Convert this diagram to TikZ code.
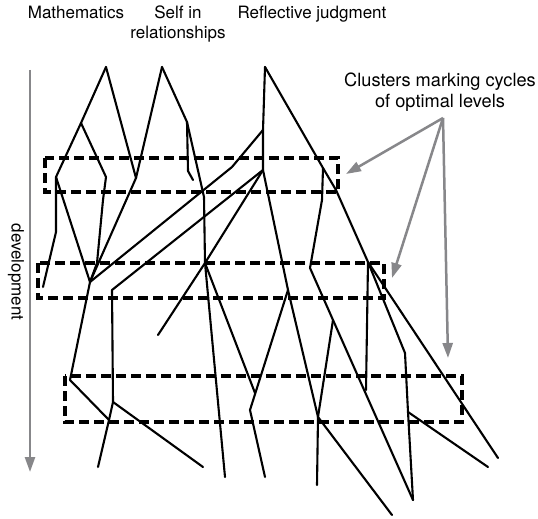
\documentclass[tikz,border=0pt]{standalone}
\usepackage{fontspec}
\setmainfont{TeX Gyre Heros}
\usetikzlibrary{arrows.meta}
\definecolor{arrowgray}{RGB}{135,135,138}
\begin{document}
\begin{tikzpicture}[x=1pt,y=-1pt,
  web/.style={line width=2.1pt, line join=round, line cap=round},
  cluster/.style={line width=4.8pt, dash pattern=on 10pt off 5pt},
  callout/.style={draw=arrowgray, line width=2.5pt, -{Triangle[length=15pt,width=10pt]}},
  lbl/.style={font=\fontsize{17}{20}\selectfont, inner sep=0pt, anchor=base},
  lblb/.style={font=\fontsize{18.2}{22}\selectfont, inner sep=0pt, anchor=base}]
\useasboundingbox[fill=white] (0,0) rectangle (538,519);

% labels
\node[lbl] (math) at (76,19) {Mathematics};
\node[lbl] (self1) at (178,18.5) {Self in};
\node[lbl] (self2) at (178,38.5) {relationships};
\node[lbl] (refl) at (312,19) {Reflective judgment};
\node[lblb] (clus1) at (440,86) {Clusters marking cycles};
\node[lblb] (clus2) at (440,107) {of optimal levels};
\node[lbl, anchor=center, rotate=-90] (dev) at (16,272) {development};

% development arrow
\coordinate (devtop) at (30,70);
\coordinate (devbot) at (30,472);
\draw[callout] (devtop) -- (devbot);

% cluster boxes
\draw[cluster] (45,158) rectangle (338,192);
\draw[cluster] (38,263) rectangle (384,298);
\draw[cluster] (65,376) rectangle (462,422);

% callout arrows
\coordinate (ca) at (443,118);
\coordinate (ct1) at (346,174);
\coordinate (ct2) at (392,278);
\coordinate (ct3) at (448,358);
\draw[callout] (ca) -- (ct1);
\draw[callout] (ca) -- (ct2);
\draw[callout] (ca) -- (ct3);

% web points
\coordinate (mp) at (106,67);
\coordinate (ma) at (81,123);
\coordinate (mb) at (56,177);
\coordinate (mc) at (56,232);
\coordinate (md) at (43,287);
\coordinate (me) at (106,177);
\coordinate (mf) at (103,200);
\coordinate (mg) at (97,263);
\coordinate (X) at (90,282);
\coordinate (sp) at (162,67);
\coordinate (v1) at (136,178);
\coordinate (sa) at (187,122);
\coordinate (sh1) at (188,171);
\coordinate (sh2) at (193,180);
\coordinate (sb) at (204,197);
\coordinate (sc) at (205,263);
\coordinate (send) at (225,477);
\coordinate (rp) at (265,67);
\coordinate (r1) at (263,130);
\coordinate (r2) at (232,167);
\coordinate (r3) at (263,170);
\coordinate (p6a) at (112,290);
\coordinate (p6b) at (113,402);
\coordinate (p7end) at (158,335);
\coordinate (x2) at (70,380);
\coordinate (x3) at (109,420);
\coordinate (e1) at (98,467);
\coordinate (e2) at (203,467);
\coordinate (bend) at (255,393);
\coordinate (c1) at (288,290);
\coordinate (c2) at (250,410);
\coordinate (c3) at (265,477);
\coordinate (t1) at (318,417);
\coordinate (f1) at (317,485);
\coordinate (g1) at (392,515);
\coordinate (h0) at (323,168);
\coordinate (h1) at (322,200);
\coordinate (h2) at (310,268);
\coordinate (h3) at (333,320);
\coordinate (h4) at (413,500);
\coordinate (re1) at (336,190);
\coordinate (re2) at (368,262);
\coordinate (i1) at (366,390);
\coordinate (k1) at (405,353);
\coordinate (k2) at (408,412);
\coordinate (k3) at (488,467);
\coordinate (l1) at (498,458);

% web lines
\draw[web] (mp) -- (ma) -- (mb) -- (mc) -- (md);
\draw[web] (mb) -- (X);
\draw[web] (ma) -- (me) -- (mf) -- (mg) -- (X);
\draw[web] (mp) -- (v1) -- (X);
\draw[web] (sp) -- (v1);
\draw[web] (sp) -- (sa) -- (sh1) -- (sh2);
\draw[web] (sa) -- (sb) -- (sc) -- (send);
\draw[web] (rp) -- (r1) -- (r3);
\draw[web] (r1) -- (r2) -- (X);
\draw[web] (r3) -- (p6a) -- (p6b) -- (x3) -- (e1);
\draw[web] (X) -- (x2) -- (x3);
\draw[web] (p6b) -- (e2);
\draw[web] (r3) -- (sc) -- (p7end);
\draw[web] (sc) -- (bend);
\draw[web] (r3) -- (c1) -- (t1);
\draw[web] (c1) -- (c2) -- (c3);
\draw[web] (t1) -- (f1);
\draw[web] (t1) -- (g1);
\draw[web] (rp) -- (h0) -- (re1) -- (re2);
\draw[web] (h0) -- (h1) -- (h2) -- (h3) -- (h4);
\draw[web] (h3) -- (t1);
\draw[web] (re2) -- (i1);
\draw[web] (re2) -- (k1) -- (k2) -- (h4);
\draw[web] (k2) -- (k3);
\draw[web] (re2) -- (l1);
\end{tikzpicture}
\end{document}
